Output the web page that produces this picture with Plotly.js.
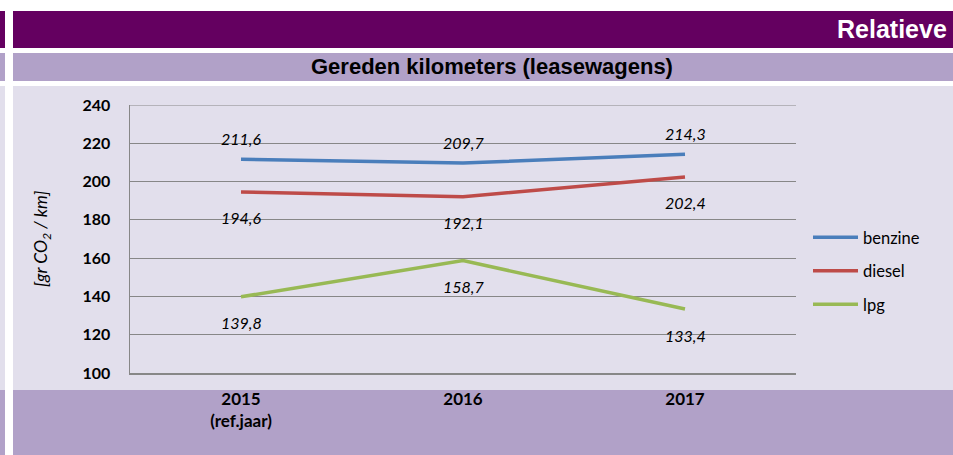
<!DOCTYPE html>
<html>
<head>
<meta charset="utf-8">
<script src="https://cdn.plot.ly/plotly-3.0.1.min.js"></script>
<style>
  html, body { margin: 0; padding: 0; background: #fff; }
  #chart { width: 953px; height: 455px; }
</style>
</head>
<body>
<div id="chart"></div>
<script>
// chart data
const categories = ['2015<br>(ref.jaar)', '2016', '2017'];
const seriesNames = ['benzine', 'diesel', 'lpg'];
const benzine = [211.6, 209.7, 214.3];
const diesel = [194.6, 192.1, 202.4];
const lpg = [139.8, 158.7, 133.4];
const yTicks = [100, 120, 140, 160, 180, 200, 220, 240];

const colors = ['#4a7ebb', '#be4b48', '#98b954'];
const labelShift = [21, -26, -26];  // benzine above, rest below

// plot box in page pixels, used to place the panels around it
const L = 130, R = 796, T = 105, B = 373;
const px = x => (x - L) / (R - L);
const py = y => (B - y) / (B - T);

const dark = '#640060', mid = '#b1a1c8', light = '#e2dfec';

function band(x0, y0, x1, y1, color) {
    return {
        type: 'rect', xref: 'paper', yref: 'paper', layer: 'below',
        x0: px(x0), x1: px(x1), y0: py(y1), y1: py(y0),
        fillcolor: color, line: {width: 0}
    };
}

const shapes = [
    band(0, 11, 5, 48, dark), band(13, 11, 953, 48, dark),
    band(0, 53, 5, 81, mid), band(13, 53, 953, 81, mid),
    band(0, 86, 5, 390, light), band(13, 86, 953, 390, light),
    band(0, 390, 5, 455, mid), band(13, 390, 953, 455, mid),
    // plotly skips the gridline on the top edge, so draw it
    {
        type: 'line', xref: 'paper', yref: 'y', layer: 'below',
        x0: 0, x1: 1, y0: yTicks[yTicks.length - 1], y1: yTicks[yTicks.length - 1],
        line: {color: '#878787', width: 1}
    }
];

const allSeries = [benzine, diesel, lpg];
const traces = allSeries.map((vals, i) => ({
    x: categories,
    y: vals,
    type: 'scatter',
    mode: 'lines',
    name: seriesNames[i],
    legendgroup: seriesNames[i],
    line: {color: colors[i], width: 3.5}
}));

// value labels, comma decimals (x given as category index)
const annotations = [];
allSeries.forEach((vals, i) => {
    vals.forEach((v, j) => {
        annotations.push({
            x: j, y: v, xref: 'x', yref: 'y',
            text: v.toFixed(1).replace('.', ','),
            showarrow: false, yshift: labelShift[i],
            font: {family: 'Lato', size: 16, color: '#000', style: 'italic'}
        });
    });
});

annotations.push({
    xref: 'paper', yref: 'paper', x: px(949), y: py(29),
    xanchor: 'right', yanchor: 'middle', showarrow: false,
    text: '<b>Relatieve</b>',
    font: {family: 'Liberation Sans', size: 25, color: '#fff'}
});
annotations.push({
    xref: 'paper', yref: 'paper', x: px(492), y: py(67),
    xanchor: 'center', yanchor: 'middle', showarrow: false,
    text: '<b>Gereden kilometers (leasewagens)</b>',
    font: {family: 'Liberation Sans', size: 22, color: '#000'}
});
annotations.push({
    xref: 'paper', yref: 'paper', x: px(42), y: 0.5,
    xanchor: 'center', yanchor: 'middle', showarrow: false,
    textangle: -90,
    text: '<i>[gr CO<sub>2</sub> / km]</i>',
    font: {family: 'Lato', size: 17.5, color: '#000'}
});

const layout = {
    width: 953, height: 455,
    margin: {l: L, r: 953 - R, t: T, b: 455 - B, pad: 0},
    paper_bgcolor: '#ffffff',
    plot_bgcolor: 'rgba(0,0,0,0)',
    showlegend: true,
    legend: {
        x: px(808), xanchor: 'left', y: py(271), yanchor: 'middle',
        bgcolor: 'rgba(0,0,0,0)', tracegroupgap: 9, itemwidth: 45,
        font: {family: 'Lato', size: 16.5, color: '#000'}
    },
    xaxis: {
        type: 'category', range: [-0.5, 2.5],
        showgrid: false, zeroline: false,
        showline: true, linecolor: '#878787', linewidth: 1.5,
        ticks: '', ticklabelstandoff: 10,
        tickfont: {family: 'Lato', size: 17, color: '#000', weight: 'bold'}
    },
    yaxis: {
        range: [100, 240], tickvals: yTicks,
        showgrid: true, gridcolor: '#878787', gridwidth: 1,
        zeroline: false, showline: true, linecolor: '#878787', linewidth: 1.5,
        ticks: '', ticklabelstandoff: 15,
        tickfont: {family: 'Lato', size: 16, color: '#000', weight: 'bold'}
    },
    shapes: shapes,
    annotations: annotations
};

Plotly.newPlot('chart', traces, layout, {displayModeBar: false, staticPlot: true});
</script>
</body>
</html>
